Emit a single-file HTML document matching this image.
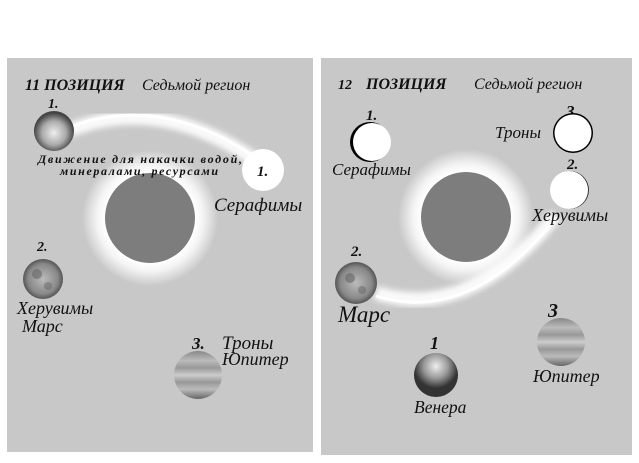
<!DOCTYPE html>
<html><head><meta charset="utf-8"><style>
html,body{margin:0;padding:0;background:#fff}
svg{display:block}
text{font-family:"Liberation Serif","DejaVu Serif",serif;font-style:italic;fill:#111}
</style></head><body>
<svg width="639" height="463" viewBox="0 0 639 463" xmlns="http://www.w3.org/2000/svg">
<defs>
<radialGradient id="glow"><stop offset="0.66" stop-color="#fff"/><stop offset="0.78" stop-color="#fff" stop-opacity="0.8"/><stop offset="1" stop-color="#fff" stop-opacity="0"/></radialGradient>
<radialGradient id="moon" cx="0.5" cy="0.55"><stop offset="0" stop-color="#eee"/><stop offset="0.6" stop-color="#aaa"/><stop offset="1" stop-color="#444"/></radialGradient>
<radialGradient id="mars" cx="0.5" cy="0.5"><stop offset="0" stop-color="#bbb"/><stop offset="0.75" stop-color="#888"/><stop offset="1" stop-color="#555"/></radialGradient>
<radialGradient id="venus" cx="0.5" cy="0.3"><stop offset="0" stop-color="#eee"/><stop offset="0.55" stop-color="#999"/><stop offset="1" stop-color="#333"/></radialGradient>
<linearGradient id="jup" x1="0" y1="0" x2="0" y2="1"><stop offset="0" stop-color="#888"/><stop offset="0.2" stop-color="#bbb"/><stop offset="0.35" stop-color="#999"/><stop offset="0.5" stop-color="#ccc"/><stop offset="0.65" stop-color="#999"/><stop offset="0.8" stop-color="#bbb"/><stop offset="1" stop-color="#666"/></linearGradient>
<filter id="blur"><feGaussianBlur stdDeviation="3"/></filter>
</defs>
<rect x="7" y="58" width="306" height="394" fill="#c8c8c8"/>
<rect x="321" y="58" width="311" height="397" fill="#c8c8c8"/>

<!-- LEFT -->
<text x="25" y="90" font-size="16" font-weight="bold">11  ПОЗИЦИЯ</text>
<text x="142" y="90" font-size="16">Седьмой регион</text>
<path d="M70 130 Q160 95 255 160" stroke="#fff" stroke-width="14" fill="none" filter="url(#blur)" opacity="0.9"/>
<path d="M70 127 Q160 93 255 157" stroke="#fff" stroke-width="3" fill="none"/>
<circle cx="150" cy="218" r="68" fill="url(#glow)"/>
<circle cx="150" cy="218" r="45" fill="#7d7d7d"/>
<text x="48" y="108" font-size="14" font-weight="bold">1.</text>
<circle cx="54" cy="131" r="20" fill="url(#moon)"/>
<text x="38" y="163" font-size="12" textLength="204" font-weight="bold" fill="#333">Движение для накачки водой,</text>
<text x="60" y="175" font-size="12" textLength="158" font-weight="bold" fill="#333">минералами, ресурсами</text>
<circle cx="263" cy="170" r="21" fill="#fff"/>
<text x="257" y="176" font-size="15" font-weight="bold">1.</text>
<text x="214" y="211" font-size="19">Серафимы</text>
<text x="37" y="251" font-size="14" font-weight="bold">2.</text>
<circle cx="43" cy="279" r="20" fill="url(#mars)"/>
<circle cx="37" cy="274" r="5" fill="#666" opacity="0.6"/><circle cx="48" cy="286" r="4" fill="#666" opacity="0.5"/>
<text x="17" y="314" font-size="18">Херувимы</text>
<text x="22" y="332" font-size="18">Марс</text>
<text x="192" y="349" font-size="17" font-weight="bold">3.</text>
<text x="222" y="349" font-size="19">Троны</text>
<text x="222" y="365" font-size="18">Юпитер</text>
<circle cx="198" cy="375" r="24" fill="url(#jup)"/>

<!-- RIGHT -->
<text x="338" y="89" font-size="14" font-weight="bold">12</text>
<text x="366" y="89" font-size="16" font-weight="bold">ПОЗИЦИЯ</text>
<text x="474" y="89" font-size="16">Седьмой регион</text>
<path d="M376 293 Q470 322 556 215" stroke="#fff" stroke-width="14" fill="none" filter="url(#blur)" opacity="0.9"/>
<path d="M376 296 Q470 325 556 218" stroke="#fff" stroke-width="3" fill="none"/>
<circle cx="466" cy="217" r="68" fill="url(#glow)"/>
<circle cx="466" cy="217" r="45" fill="#7d7d7d"/>
<text x="366" y="120" font-size="15" font-weight="bold">1.</text>
<circle cx="370" cy="142" r="20" fill="#000"/>
<circle cx="372" cy="142" r="19" fill="#fff"/>
<text x="332" y="175" font-size="17">Серафимы</text>
<text x="566" y="117" font-size="17" font-weight="bold">3.</text>
<text x="495" y="138" font-size="17">Троны</text>
<circle cx="573" cy="133" r="20" fill="#000"/>
<circle cx="573" cy="133" r="18.5" fill="#fff"/>
<text x="567" y="169" font-size="15" font-weight="bold">2.</text>
<circle cx="570" cy="190" r="19" fill="#333"/>
<circle cx="569" cy="190" r="19" fill="#fff"/>
<text x="532" y="221" font-size="18">Херувимы</text>
<text x="351" y="256" font-size="15" font-weight="bold">2.</text>
<circle cx="356" cy="283" r="21" fill="url(#mars)"/>
<circle cx="350" cy="278" r="5" fill="#666" opacity="0.6"/><circle cx="362" cy="290" r="4" fill="#666" opacity="0.5"/>
<text x="338" y="322" font-size="23">Марс</text>
<text x="548" y="317" font-size="20" font-weight="bold">3</text>
<circle cx="561" cy="342" r="24" fill="url(#jup)"/>
<text x="533" y="382" font-size="18">Юпитер</text>
<text x="430" y="349" font-size="18" font-weight="bold">1</text>
<circle cx="436" cy="375" r="22" fill="url(#venus)"/>
<text x="414" y="413" font-size="17.5">Венера</text>
</svg>
</body></html>
